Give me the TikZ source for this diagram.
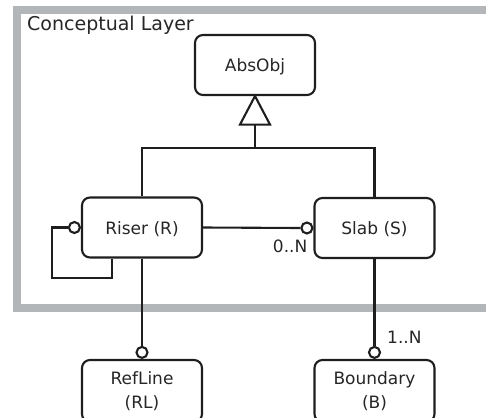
\documentclass[tikz,border=0pt]{standalone}
\usepackage{fontspec}
\setmainfont{DejaVu Sans}
\usetikzlibrary{calc,positioning}
\definecolor{framegray}{HTML}{B2B6B8}
\definecolor{ink}{HTML}{1E1E1E}
\definecolor{txt}{HTML}{262626}
\begin{document}
\begin{tikzpicture}[x=1pt,y=-1pt,
  clsbase/.style={draw=ink, line width=2.1pt, rounded corners=8pt, minimum width=120pt, inner sep=0pt, font=\fontsize{17}{24.5}\selectfont, text=txt, fill=white},
  cls/.style={clsbase, minimum height=60pt, text height=13pt, text depth=0pt},
  clstwo/.style={clsbase, minimum height=62pt, align=center},
  endc/.style={circle, draw=ink, line width=2.1pt, fill=white, minimum size=11pt, inner sep=0pt},
  conn/.style={draw=ink, line width=2.1pt},
  lbl/.style={font=\fontsize{17}{20}\selectfont, text=txt, inner sep=0pt}]
\useasboundingbox (0,0) rectangle (486,417);
\clip (0,0) rectangle (486,417);
\draw[framegray, line width=7.5pt] (17,10) rectangle (520,308);
\node[font=\fontsize{19}{22}\selectfont, text=txt, anchor=base west, inner sep=0pt] (title) at (27,30.7) {Conceptual Layer};

\node[cls] (abs) at (255,65) {AbsObj};
\node[cls] (riser) at (142,227.5) {Riser (R)};
\node[cls] (slab) at (374.5,228) {Slab (S)};
\node[clstwo] (ref) at (142,391) {RefLine\\(RL)};
\node[clstwo] (bnd) at (374.5,391) {Boundary\\(B)};

\node[endc, anchor=east] (c1) at (slab.west) {};
\node[endc, anchor=east] (c2) at (riser.west) {};
\node[endc, anchor=south] (c3) at (ref.north) {};
\node[endc, anchor=south] (c4) at (bnd.north) {};

\coordinate (tb) at ($(abs.south)+(0,28.5)$);
\coordinate (bar) at ($(tb)+(0,23)$);
\draw[conn] (tb) -- (bar);
\draw[conn] (riser.north) |- (bar) -| (slab.north);
\draw[conn, fill=white, line join=miter] (abs.south) -- ($(tb)+(15,0)$) -- ($(tb)+(-15,0)$) -- cycle;

\draw[conn] (riser.east) -- (c1.west);
\coordinate (lp) at (52,278);
\draw[conn] (c2.west) -| (lp) -| ($(riser.south)+(-30,0)$);
\draw[conn] (riser.south) -- (c3.north);
\draw[conn] (slab.south) -- (c4.north);

\node[lbl, anchor=base east] (l1) at (307.5,252.5) {0..N};
\node[lbl, anchor=base west] (l2) at (387,343.3) {1..N};
\end{tikzpicture}
\end{document}
